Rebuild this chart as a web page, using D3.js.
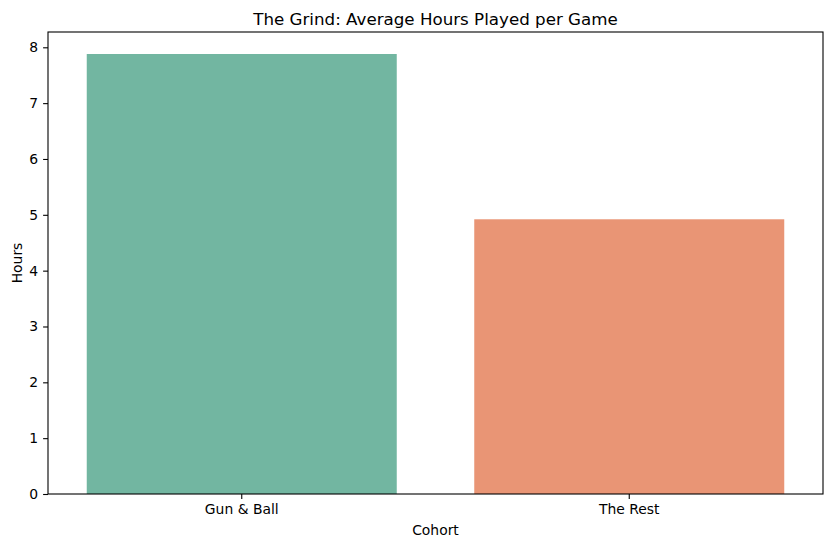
<!DOCTYPE html>
<html>
<head>
<meta charset="utf-8">
<script src="https://cdn.jsdelivr.net/npm/d3@7/dist/d3.min.js"></script>
<style>
  body { margin: 0; background: #fff; }
  text { font-family: "DejaVu Sans", sans-serif; fill: #000; }
</style>
</head>
<body>
<script>
// chart data
var cohorts = ["Gun & Ball", "The Rest"];
var avgHours = [7.88, 4.92];
var barColors = ["#72b6a1", "#e99575"];
var yTicks = [0, 1, 2, 3, 4, 5, 6, 7, 8];

var margin = {top: 32, right: 10, bottom: 53, left: 48},
    width = 833 - margin.left - margin.right,
    height = 547 - margin.top - margin.bottom;

var data = cohorts.map(function(c, i) { return {cohort: c, hours: avgHours[i], color: barColors[i]}; });

var xScale = d3.scaleBand()
    .domain(cohorts)
    .range([0, width])
    .paddingInner(0.2)
    .paddingOuter(0.1);

// matplotlib style 5% headroom
var yScale = d3.scaleLinear()
    .domain([0, d3.max(avgHours) * 1.05])
    .range([height, 0]);

var svg = d3.select("body").append("svg")
    .attr("width", 833)
    .attr("height", 547);

var g = svg.append("g")
    .attr("transform", "translate(" + margin.left + "," + margin.top + ")");

// bars
g.selectAll("rect.bar")
    .data(data)
    .enter().append("rect")
    .attr("class", "bar")
    .attr("x", function(d) { return xScale(d.cohort); })
    .attr("y", function(d) { return yScale(d.hours); })
    .attr("width", xScale.bandwidth())
    .attr("height", function(d) { return height - yScale(d.hours); })
    .attr("fill", function(d) { return d.color; });

// axes
var xAxis = g.append("g")
    .attr("transform", "translate(0," + height + ")")
    .call(d3.axisBottom(xScale).tickSizeInner(4.9).tickSizeOuter(0).tickPadding(4.9));

var yAxis = g.append("g")
    .call(d3.axisLeft(yScale).tickValues(yTicks).tickSizeInner(4.9).tickSizeOuter(0).tickPadding(4.9));

[xAxis, yAxis].forEach(function(ax) {
  ax.select(".domain").remove();
  ax.selectAll(".tick line").attr("stroke", "#000").attr("stroke-width", 1.1);
  ax.selectAll(".tick text").style("font-size", "13.9px").style("font-family", "DejaVu Sans");
});

// frame
g.append("rect")
    .attr("x", 0)
    .attr("y", 0)
    .attr("width", width)
    .attr("height", height)
    .attr("fill", "none")
    .attr("stroke", "#000")
    .attr("stroke-width", 1.1);

// title and labels
svg.append("text")
    .attr("x", margin.left + width / 2)
    .attr("y", 25)
    .attr("text-anchor", "middle")
    .style("font-size", "16.7px")
    .text("The Grind: Average Hours Played per Game");

svg.append("text")
    .attr("x", margin.left + width / 2)
    .attr("y", 535)
    .attr("text-anchor", "middle")
    .style("font-size", "13.9px")
    .text("Cohort");

svg.append("text")
    .attr("transform", "translate(21.5," + (margin.top + height / 2) + ") rotate(-90)")
    .attr("text-anchor", "middle")
    .style("font-size", "13.9px")
    .text("Hours");
</script>
</body>
</html>
